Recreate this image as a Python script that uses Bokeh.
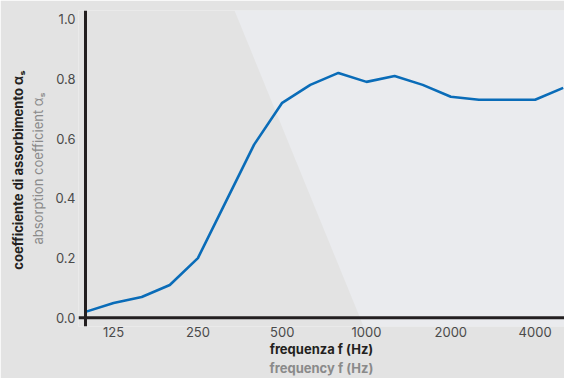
from bokeh.plotting import figure
from bokeh.models import (Range1d, FixedTicker, PrintfTickFormatter, Span,
                          PolyAnnotation, LinearAxis)
from bokeh.embed import file_html
from bokeh.resources import INLINE

# third-octave band centre frequencies (Hz)
freqs = [100, 125, 160, 200, 250, 315, 400, 500, 630, 800,
         1000, 1250, 1600, 2000, 2500, 3150, 4000, 5000]
# sound absorption coefficient alpha_s
alpha = [0.02, 0.05, 0.07, 0.11, 0.20, 0.39, 0.58, 0.72, 0.78, 0.82,
         0.79, 0.81, 0.78, 0.74, 0.73, 0.73, 0.73, 0.77]
x_tick_labels = ["125", "250", "500", "1000", "2000", "4000"]
y_ticks = [0.0, 0.2, 0.4, 0.6, 0.8, 1.0]

idx = list(range(len(freqs)))
x_ticks = [freqs.index(int(t)) for t in x_tick_labels]

FONT = "Inter"
BG = "#e3e3e3"
TITLE_SIZE = "13px"
p = figure(width=564, height=378, output_backend="svg", toolbar_location=None,
           x_range=Range1d(-0.249, 17.046), y_range=Range1d(-0.029, 1.029),
           min_border_left=78, min_border_right=0, min_border_top=10, min_border_bottom=51)
p.background_fill_color = BG
p.border_fill_color = BG
p.outline_line_color = None
p.grid.visible = False

# lighter textured panel of the background photo (decoration only)
band = PolyAnnotation(xs=[5.16, 30, 30, 9.9],
                      ys=[1.062, 1.062, -0.03, -0.03],
                      fill_color="#eaebee", fill_alpha=1.0, line_color=None, level="image")
p.add_layout(band)

p.line(idx, alpha, line_color="#0a6cb8", line_width=2.6)

p.xaxis.ticker = FixedTicker(ticks=x_ticks)
p.xaxis.major_label_overrides = {t: l for t, l in zip(x_ticks, x_tick_labels)}
p.yaxis.ticker = FixedTicker(ticks=y_ticks)
p.yaxis.formatter = PrintfTickFormatter(format="%.1f")
for ax in (p.xaxis, p.yaxis):
    ax.axis_line_color = None
    ax.major_tick_line_color = None
    ax.minor_tick_line_color = None
    ax.major_tick_out = 0
    ax.major_tick_in = 0
    ax.major_label_text_font = FONT
    ax.major_label_text_font_size = "13px"
    ax.major_label_text_color = "#4a4a4a"
    ax.axis_label_text_font = FONT
    ax.axis_label_text_font_size = TITLE_SIZE
    ax.axis_label_text_font_style = "bold"
p.xaxis.major_label_standoff = 0
p.yaxis.major_label_standoff = 3

# axis titles (italian bold, english grey)
p.xaxis.axis_label = "frequenza f (Hz)"
p.xaxis.axis_label_text_color = "#231f20"
p.xaxis.axis_label_standoff = 1
p.yaxis.axis_label = "absorption coefficient αₛ"
p.yaxis.axis_label_text_color = "#8a8a8a"
p.yaxis.axis_label_text_font_style = "normal"
p.yaxis.axis_label_standoff = 6

def title_axis(place, text, color, style, standoff):
    ax = LinearAxis(ticker=FixedTicker(ticks=[]), axis_line_color=None,
                    major_tick_line_color=None, minor_tick_line_color=None,
                    major_tick_out=0, major_tick_in=0, major_label_standoff=0,
                    major_label_text_font_size="0px",
                    axis_label=text, axis_label_text_font=FONT,
                    axis_label_text_font_size=TITLE_SIZE, axis_label_text_font_style=style,
                    axis_label_text_color=color, axis_label_standoff=standoff)
    p.add_layout(ax, place)
    return ax

title_axis("below", "frequency f (Hz)", "#8a8a8a", "bold", 0)
title_axis("left", "coefficiente  di assorbimento αₛ", "#231f20", "bold", 2)

# axis lines crossing at the origin
p.add_layout(Span(location=0, dimension="height", line_color="#231f20", line_width=3))
p.add_layout(Span(location=0, dimension="width", line_color="#231f20", line_width=3))

open("out.html", "w").write(file_html(p, INLINE))
